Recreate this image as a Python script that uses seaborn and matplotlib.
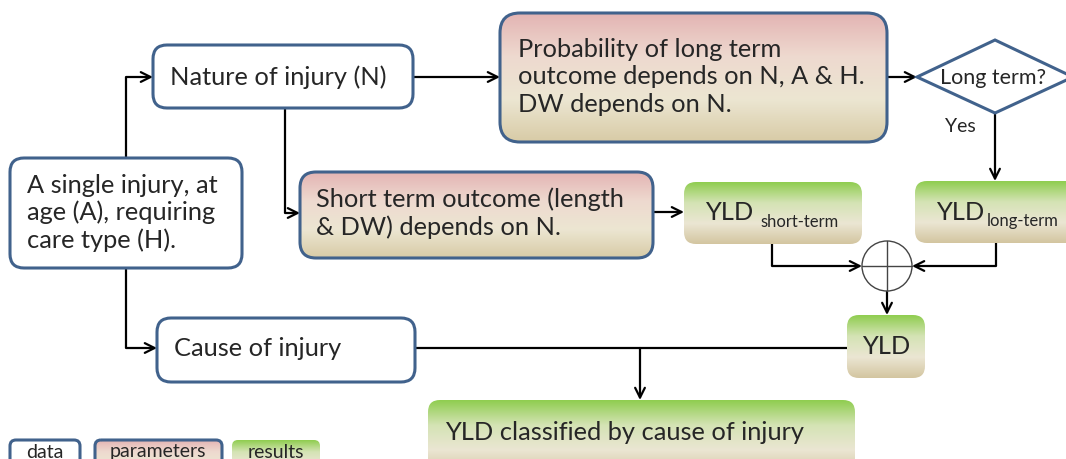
import numpy as np
import seaborn as sns
import matplotlib.pyplot as plt
from matplotlib.patches import FancyBboxPatch, Polygon, Circle
from matplotlib.colors import LinearSegmentedColormap

# text of the chart
data_labels = ["A single injury, at\nage (A), requiring\ncare type (H).",
               "Nature of injury (N)", "Cause of injury"]
param_labels = ["Probability of long term\noutcome depends on N, A & H.\nDW depends on N.",
                "Short term outcome (length\n& DW) depends on N."]
result_labels = ["YLD", "YLD", "YLD", "YLD classified by cause of injury"]
result_subs = ["short-term", "long-term", "", ""]
decision_label = "Long term?"
yes_label = "Yes"
legend_labels = ["data", "parameters", "results"]

sns.set_style("white")
plt.rcParams['font.family'] = ['Lato', 'DejaVu Sans']

BORDER = "#41628c"
param_cmap = LinearSegmentedColormap.from_list(
    "param", ["#e3b4b3", "#eed9cf", "#ece6d2", "#d8cba6"])
result_cmap = LinearSegmentedColormap.from_list(
    "result", ["#8fcd4f", "#d4e3b4", "#ebe6d3", "#d3c5a0"])

fig = plt.figure(figsize=(10.66, 4.59), dpi=100)
ax = fig.add_axes([0, 0, 1, 1])
ax.set_xlim(0, 1066)
ax.set_ylim(459, 0)
ax.axis("off")


def box(x0, y0, x1, y1, kind, r=14):
    patch = FancyBboxPatch((x0, y0), x1 - x0, y1 - y0,
                           boxstyle=f"round,pad=0,rounding_size={r}",
                           fc="white" if kind == "data" else "none",
                           ec=BORDER if kind != "result" else "none",
                           lw=2.2, zorder=3)
    ax.add_patch(patch)
    if kind != "data":
        cmap = param_cmap if kind == "param" else result_cmap
        grad = np.linspace(0, 1, 256).reshape(-1, 1)
        im = ax.imshow(grad, cmap=cmap, extent=(x0, x1, y1, y0),
                       aspect="auto", zorder=2)
        clip = FancyBboxPatch((x0, y0), x1 - x0, y1 - y0,
                              boxstyle=f"round,pad=0,rounding_size={r}",
                              fc="none", ec="none", transform=ax.transData)
        im.set_clip_path(clip)


def arrow(pts, head=True):
    xs, ys = zip(*pts)
    if head:
        ax.plot(xs[:-1], ys[:-1], color="black", lw=1.6, zorder=1,
                solid_capstyle="butt")
        ax.annotate("", xy=pts[-1], xytext=pts[-2],
                    arrowprops=dict(arrowstyle="->,head_length=0.7,head_width=0.35",
                                    color="black", lw=1.6,
                                    shrinkA=0, shrinkB=0), zorder=1)
    else:
        ax.plot(xs, ys, color="black", lw=1.6, zorder=1)


FS = 18.3

# data boxes
box(10, 158, 242, 268, "data")
ax.text(27, 213, data_labels[0], fontsize=FS, va="center", ha="left",
        linespacing=1.22, zorder=4)
box(153, 45, 413, 108, "data")
ax.text(170, 77, data_labels[1], fontsize=FS, va="center", ha="left", zorder=4)
box(157, 318, 415, 382, "data")
ax.text(174, 349, data_labels[2], fontsize=FS, va="center", ha="left", zorder=4)

# parameter boxes
box(500, 13, 887, 142, "param", r=20)
ax.text(518, 77, param_labels[0], fontsize=FS, va="center", ha="left",
        linespacing=1.22, zorder=4)
box(300, 172, 653, 258, "param", r=16)
ax.text(316, 213, param_labels[1], fontsize=FS, va="center", ha="left",
        linespacing=1.22, zorder=4)

# result boxes
result_boxes = [(684, 182, 862, 244), (915, 181, 1080, 243),
                (847, 315, 925, 378), (428, 400, 855, 475)]
sub_offsets = [76, 72, 0, 0]
for (x0, y0, x1, y1), lab, sub, off in zip(result_boxes, result_labels,
                                           result_subs, sub_offsets):
    box(x0, y0, x1, y1, "result", r=12)
    yc = (y0 + min(y1, 459)) / 2
    if sub:
        ax.text(x0 + 21, yc, lab, fontsize=FS, va="center", ha="left", zorder=4)
        ax.text(x0 + off, yc + 9, sub, fontsize=12, va="center", ha="left",
                zorder=4)
    elif lab == "YLD":
        ax.text((x0 + x1) / 2, yc, lab, fontsize=FS, va="center", ha="center", zorder=4)
    else:
        ax.text(x0 + 17, 432, lab, fontsize=FS, va="center", ha="left", zorder=4)

# decision diamond
ax.add_patch(Polygon([(917, 77), (995, 40), (1073, 77), (995, 113)],
                     closed=True, fc="white", ec=BORDER, lw=2.2, zorder=3))
ax.text(993, 78, decision_label, fontsize=15.5, va="center", ha="center", zorder=4)
ax.text(960, 126, yes_label, fontsize=14, va="center", ha="center", zorder=4)

# summing junction
ax.add_patch(Circle((887, 266), 25, fc="white", ec="#444444", lw=1.0, zorder=3))
ax.plot([862, 912], [266, 266], color="#444444", lw=1.0, zorder=4)
ax.plot([887, 887], [241, 291], color="#444444", lw=1.0, zorder=4)

# connectors
arrow([(126, 158), (126, 77), (153, 77)])
arrow([(126, 268), (126, 348), (157, 348)])
arrow([(413, 77), (500, 77)])
arrow([(285, 108), (285, 213), (300, 213)])
arrow([(887, 77), (917, 77)])
arrow([(995, 113), (995, 181)])
arrow([(653, 212), (684, 212)])
arrow([(772, 244), (772, 266), (862, 266)])
arrow([(996, 243), (996, 266), (912, 266)])
arrow([(887, 291), (887, 315)])
arrow([(415, 348), (847, 348)], head=False)
arrow([(640, 348), (640, 400)])

# legend
box(10, 440, 80, 475, "data", r=6)
ax.text(45, 452, legend_labels[0], fontsize=14, va="center", ha="center", zorder=4)
box(95, 440, 222, 475, "param", r=6)
ax.text(158, 452, legend_labels[1], fontsize=14, va="center", ha="center", zorder=4)
box(232, 440, 320, 475, "result", r=6)
ax.text(276, 452, legend_labels[2], fontsize=14, va="center", ha="center", zorder=4)

fig.savefig("out.png", dpi=100)
